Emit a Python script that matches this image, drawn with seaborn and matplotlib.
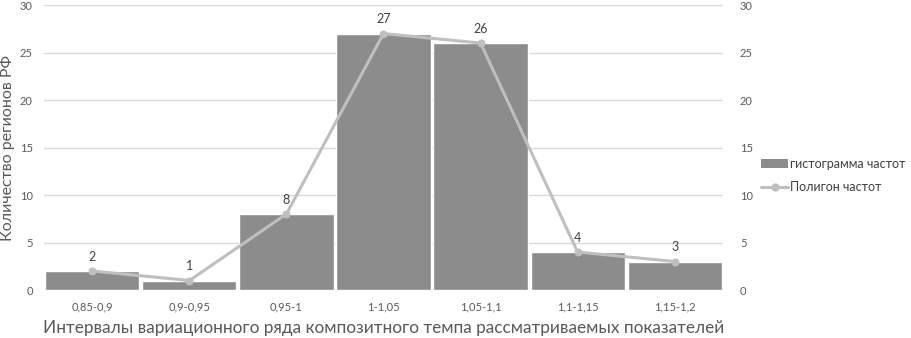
import numpy as np
import matplotlib
matplotlib.use("Agg")
import matplotlib.pyplot as plt
import seaborn as sns
from matplotlib.patches import Patch
from matplotlib.lines import Line2D

# данные
intervals = ["0,85-0,9", "0,9-0,95", "0,95-1", "1-1,05", "1,05-1,1", "1,1-1,15", "1,15-1,2"]
hist_counts = [2, 1, 8, 27, 26, 4, 3]
polygon_counts = [2, 1, 8, 27, 26, 4, 3]

sns.set_style("white")
plt.rcParams['font.family'] = ['Lato', 'Noto Sans', 'DejaVu Sans']

bar_color = "#8c8c8c"
line_color = "#bfbfbf"
text_color = "#595959"

fig = plt.figure(figsize=(9.12, 3.38), dpi=100)
ax = fig.add_axes([0.048, 0.142, 0.745, 0.843])

sns.barplot(x=intervals, y=hist_counts, color=bar_color, width=0.97,
            saturation=1, ax=ax)
ax.set_ylim(0, 30)
ax.set_yticks(range(0, 31, 5))
ax.set_xlim(-0.5, 6.5)
ax.yaxis.grid(True, color="#d9d9d9", linewidth=1)
ax.set_axisbelow(True)
for s in ax.spines.values():
    s.set_visible(False)
ax.tick_params(axis="both", length=0, labelsize=8, labelcolor=text_color, pad=8)
ax.set_xlabel("Интервалы вариационного ряда композитного темпа рассматриваемых показателей",
              fontsize=12.4, color=text_color, labelpad=6)
ax.set_ylabel("Количество регионов РФ", fontsize=11.5, color=text_color)
ax.yaxis.set_label_coords(-0.043, 0.5)

ax2 = ax.twinx()
sns.lineplot(x=np.arange(len(intervals)), y=polygon_counts, color=line_color,
             linewidth=2.2, marker="o", markersize=5, markeredgecolor=line_color,
             ax=ax2)
ax2.set_ylim(0, 30)
ax2.set_yticks(range(0, 31, 5))
for s in ax2.spines.values():
    s.set_visible(False)
ax2.tick_params(axis="y", length=0, labelsize=8, labelcolor=text_color, pad=12)

for i, v in enumerate(polygon_counts):
    ax2.annotate(str(v), (i, v), xytext=(0, 6), textcoords="offset points",
                 ha="center", va="bottom", fontsize=9, color="#404040")

handles = [Patch(facecolor=bar_color, edgecolor="none"),
           Line2D([0], [0], color=line_color, linewidth=2.2, marker="o",
                  markersize=5)]
fig.legend(handles, ["гистограмма частот", "Полигон частот"],
           loc="center left", bbox_to_anchor=(0.822, 0.48), frameon=False,
           fontsize=9, labelcolor="#404040", handlelength=2.2,
           handletextpad=0.15, labelspacing=0.9)

fig.savefig("out.png", dpi=100)
